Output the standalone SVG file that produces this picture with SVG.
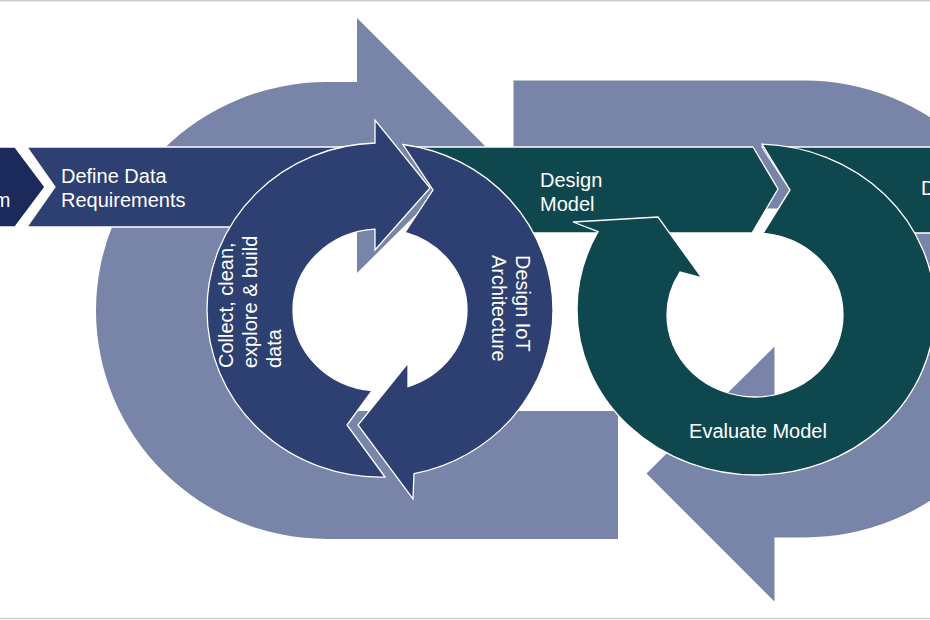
<svg xmlns="http://www.w3.org/2000/svg" width="930" height="620" viewBox="0 0 930 620">
<style>
.bg{fill:#7885a9;}
.nv{fill:#2e3f71;stroke:#ffffff;stroke-width:1.3;}
.dk{fill:#1c2a5b;stroke:#ffffff;stroke-width:1.3;}
.tl{fill:#0f474f;stroke:#ffffff;stroke-width:1.3;}
.t{font-family:"Liberation Sans",Arial,sans-serif;font-size:20px;fill:#ffffff;}
.frame{stroke:#c8cdd5;stroke-width:1.5;}
</style>
<defs>
<path id="loop" d="M618,539 L327,539 A231,228.5 0 0 1 96,310.5 A231,228.5 0 0 1 327,82 L357,82 L357,18 L485,146 L357,273 L357,210 L327,210 A100.5,100.5 0 0 0 226.5,310.5 A100.5,100.5 0 0 0 327,411 L618,411 Z"/>
</defs>
<rect width="930" height="620" fill="#ffffff"/>
<line class="frame" x1="0" y1="0.75" x2="930" y2="0.75"/>
<line class="frame" x1="0" y1="618.5" x2="930" y2="618.5"/>
<g id="connectors">
<use id="loop-left" href="#loop" class="bg"/>
<use id="loop-right" href="#loop" class="bg" transform="rotate(180 565.75 309.75)"/>
</g>
<g id="chevron-problem">
<polygon class="dk" points="-5,147 15,147 45,187 15,227 -5,227"/>
<text class="t" x="10.5" y="207" text-anchor="end">m</text>
</g>
<g id="chevron-define-data">
<polygon class="nv" points="27,147 360,147 395,187 360,227 27,227 55,187"/>
<text class="t" x="61" y="183">Define Data</text>
<text class="t" x="61" y="207">Requirements</text>
</g>
<g id="chevron-design-model">
<polygon class="tl" points="408,147 753,147 778,189 752,233 408,233 436,190"/>
<text class="t" x="540" y="187">Design</text>
<text class="t" x="540" y="211">Model</text>
</g>
<g id="chevron-d">
<polygon class="tl" points="762,147 940,147 940,233 763,233 790,190"/>
<text class="t" x="921" y="195">D</text>
</g>
<g id="cycle-collect">
<path class="nv" d="M385,477 A173,167 0 0 1 207,310 A173,167 0 0 1 375,143 L375,120 L430,188 L375,250 L375,229.1 A87,81 0 0 0 293,310 A87,81 0 0 0 372,390.7 L347,425 Z"/>
<text class="t" transform="translate(233,368) rotate(-90)"><tspan x="0" y="0">Collect, clean,</tspan><tspan x="0" y="24">explore &amp; build</tspan><tspan x="0" y="48">data</tspan></text>
</g>
<g id="cycle-design-iot">
<path class="nv" d="M403,144.5 A173,167 0 0 1 553,310 A173,167 0 0 1 414,473.7 L413,499 L358,425 L408,363 L408,386.7 A87,81 0 0 0 467,310 A87,81 0 0 0 405,232.4 L433,190 Z"/>
<text class="t" transform="translate(516,255) rotate(90)"><tspan x="0" y="0">Design IoT</tspan><tspan x="0" y="24">Architecture</tspan></text>
</g>
<g id="cycle-evaluate">
<path class="tl" d="M762,144.1 A179,165.5 0 0 1 935,309.5 A179,165.5 0 0 1 756,475 A179,165.5 0 0 1 577,309.5 A179,165.5 0 0 1 598,231.7 L573,222 L658,217 L702,278 L680,272.1 A88,82 0 0 0 667,315 A88,82 0 0 0 755,397 A88,82 0 0 0 843,315 A88,82 0 0 0 763,233.3 L790,190 Z"/>
<text class="t" x="758" y="438" text-anchor="middle">Evaluate Model</text>
</g>
</svg>
